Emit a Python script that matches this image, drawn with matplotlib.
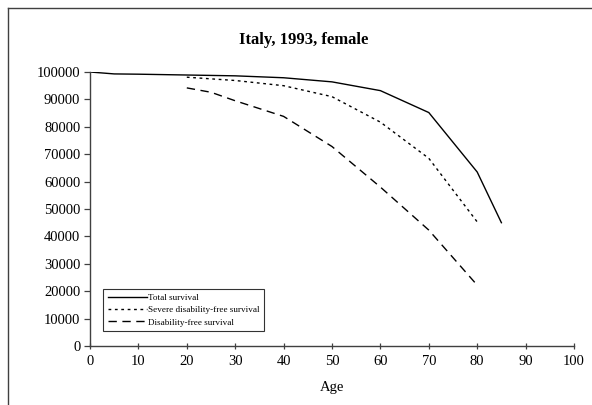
import matplotlib
matplotlib.use("Agg")
import matplotlib.pyplot as plt
from matplotlib.lines import Line2D

ages_total = [0, 5, 10, 20, 30, 40, 50, 60, 70, 80, 85]
total = [100000, 99300, 99200, 98900, 98600, 97900, 96400, 93200, 85200, 63500, 45000]

ages_severe = [20, 30, 40, 50, 60, 70, 80]
severe_free = [98100, 96900, 95000, 91000, 81700, 68500, 45300]

ages_dis = [20, 25, 30, 40, 50, 60, 70, 80]
disab_free = [94200, 92600, 89500, 83800, 72800, 58000, 42300, 22200]

labels = ["Total survival", "Severe disability-free survival", "Disability-free survival"]
title = "Italy, 1993, female"
xlabel = "Age"

plt.rcParams['font.family'] = ['Liberation Serif', 'DejaVu Serif']

W, H = 592, 405
fig = plt.figure(figsize=(W / 100, H / 100), dpi=100)
ax = fig.add_axes([90 / W, 1 - 346 / H, (574 - 90) / W, (346 - 72) / H])

ax.plot(ages_total, total, color='black', lw=1.0, ls='-', label=labels[0])
ax.plot(ages_severe, severe_free, color='black', lw=1.0, ls=(0, (2, 2.6)), label=labels[1])
ax.plot(ages_dis, disab_free, color='black', lw=1.0, ls=(0, (6, 4)), label=labels[2])

ax.set_xlim(0, 100)
ax.set_ylim(0, 100000)
ax.set_xticks(range(0, 101, 10))
ax.set_yticks(range(0, 100001, 10000))
for s in ['top', 'right']:
    ax.spines[s].set_visible(False)
for s in ['left', 'bottom']:
    ax.spines[s].set_color('#404040')
    ax.spines[s].set_linewidth(1.0)
ax.tick_params(axis='x', direction='inout', length=5, width=0.9, color='#404040',
               labelsize=10.5, pad=4)
ax.tick_params(axis='y', direction='out', length=4, width=0.9, color='#404040',
               labelsize=10.5, pad=3)
ax.set_xlabel(xlabel, fontsize=10.5, labelpad=9)

fig.text(304 / W, 1 - 40 / H, title, ha='center', va='center', fontsize=12,
         fontweight='bold')

leg = ax.legend(loc='upper left', bbox_to_anchor=(103 / W, 1 - 289 / H),
                bbox_transform=fig.transFigure, fontsize=6.6, frameon=True,
                fancybox=False, edgecolor='black', handlelength=4.3,
                handletextpad=0.1, borderpad=0.5, labelspacing=0.42,
                borderaxespad=0)
leg.get_frame().set_linewidth(0.8)

# outer chart border (partially cropped)
fig.add_artist(Line2D([8 / W, 1.0], [1 - 8 / H, 1 - 8 / H], transform=fig.transFigure,
                      color='#404040', lw=1.0))
fig.add_artist(Line2D([8 / W, 8 / W], [1 - 8 / H, 0.0], transform=fig.transFigure,
                      color='#404040', lw=1.0))

fig.savefig("out.png", dpi=100)
